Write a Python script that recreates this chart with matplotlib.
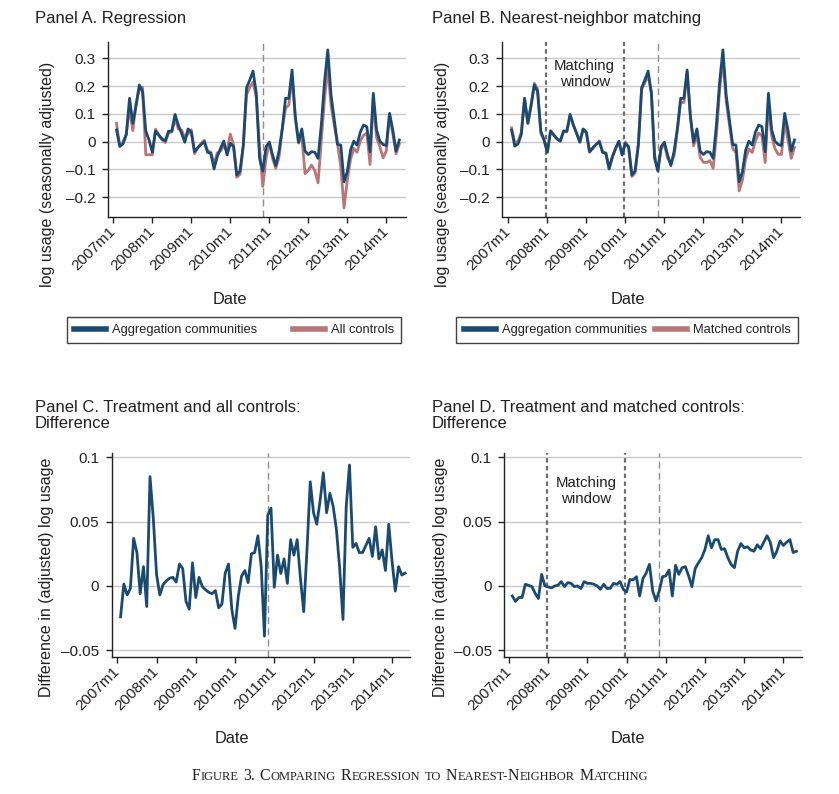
import matplotlib
matplotlib.use("Agg")
import matplotlib.pyplot as plt
from matplotlib.lines import Line2D
from matplotlib.transforms import IdentityTransform, blended_transform_factory

plt.rcParams['font.family'] = ['Liberation Sans', 'DejaVu Sans']

# ---------------- data (month index 0 = 2007m1) ----------------
tick_months = [0, 12, 24, 36, 48, 60, 72, 84]
tick_labels = ['2007m1', '2008m1', '2009m1', '2010m1', '2011m1', '2012m1', '2013m1', '2014m1']
months = list(range(1, 89))

treatment = [0.042, -0.016, -0.008, 0.026, 0.156, 0.066, 0.130, 0.204, 0.180, 0.038,
             0.006, -0.038, 0.038, 0.024, 0.010, 0.003, 0.038, 0.038, 0.098, 0.060,
             0.030, -0.002, 0.046, 0.034, -0.036, -0.022, -0.010, 0.000, -0.038, -0.042,
             -0.098, -0.054, -0.024, 0.002, -0.048, -0.006, -0.018, -0.120, -0.105, -0.012,
             0.194, 0.222, 0.254, 0.174, -0.060, -0.106, -0.018, -0.002, -0.048, -0.086,
             -0.034, 0.048, 0.156, 0.156, 0.258, 0.090, -0.002, 0.046, -0.034, -0.046,
             -0.036, -0.038, -0.060, 0.060, 0.216, 0.330, 0.168, 0.078, -0.010, -0.012,
             -0.144, -0.108, -0.030, 0.002, -0.012, 0.034, 0.060, 0.054, -0.036, 0.174,
             0.042, 0.002, -0.010, -0.014, 0.102, 0.042, -0.034, 0.006]

all_controls = [0.066, -0.018, -0.001, 0.028, 0.119, 0.040, 0.136, 0.189, 0.196, -0.047,
                -0.047, -0.047, 0.045, 0.023, 0.006, -0.003, 0.031, 0.035, 0.081, 0.046,
                0.042, 0.016, 0.028, 0.043, -0.043, -0.022, -0.007, 0.005, -0.032, -0.038,
                -0.081, -0.040, -0.034, -0.015, -0.030, 0.027, -0.010, -0.128, -0.117, -0.015,
                0.169, 0.196, 0.215, 0.159, -0.021, -0.161, -0.060, -0.001, -0.060, -0.096,
                -0.055, 0.046, 0.120, 0.132, 0.235, 0.084, -0.005, 0.018, -0.115, -0.103,
                -0.084, -0.104, -0.148, 0.003, 0.155, 0.268, 0.130, 0.058, -0.010, -0.090,
                -0.238, -0.138, -0.063, -0.024, -0.038, 0.002, 0.023, 0.031, -0.082, 0.153,
                0.014, -0.018, -0.058, -0.034, 0.098, 0.027, -0.043, -0.008]

matched_controls = [0.050, -0.004, 0.001, 0.035, 0.155, 0.066, 0.131, 0.210, 0.190, 0.029,
                    0.006, -0.037, 0.040, 0.024, 0.010, 0.000, 0.039, 0.035, 0.096, 0.060,
                    0.030, 0.000, 0.043, 0.032, -0.038, -0.023, -0.010, 0.003, -0.039, -0.040,
                    -0.096, -0.056, -0.025, -0.001, -0.045, -0.001, -0.023, -0.125, -0.112, -0.004,
                    0.188, 0.212, 0.237, 0.178, -0.048, -0.102, -0.025, -0.010, -0.060, -0.078,
                    -0.050, 0.039, 0.142, 0.141, 0.250, 0.090, -0.015, 0.028, -0.056, -0.074,
                    -0.075, -0.068, -0.096, 0.024, 0.188, 0.301, 0.146, 0.061, -0.024, -0.039,
                    -0.177, -0.138, -0.061, -0.026, -0.039, 0.002, 0.031, 0.020, -0.075, 0.140,
                    0.020, -0.025, -0.045, -0.046, 0.068, 0.006, -0.060, -0.021]

diff_all = [-0.024, 0.0015, -0.007, -0.002, 0.037, 0.026, -0.006, 0.015, -0.016, 0.085,
            0.053, 0.009, -0.007, 0.001, 0.004, 0.006, 0.0067, 0.003, 0.017, 0.0136,
            -0.012, -0.018, 0.018, -0.009, 0.0067, -0.0005, -0.003, -0.005, -0.006, -0.0036,
            -0.017, -0.014, 0.010, 0.017, -0.018, -0.033, -0.008, 0.0077, 0.012, 0.0026,
            0.025, 0.026, 0.039, 0.015, -0.039, 0.055, 0.0605, -0.001, 0.024, 0.0097,
            0.021, 0.002, 0.036, 0.024, 0.036, 0.006, -0.020, 0.028, 0.081, 0.057,
            0.048, 0.066, 0.088, 0.057, 0.072, 0.062, 0.044, 0.0136, -0.026, 0.062,
            0.094, 0.030, 0.033, 0.026, 0.026, 0.0315, 0.037, 0.023, 0.046, 0.021,
            0.028, 0.012, 0.048, 0.0195, -0.004, 0.015, 0.0085, 0.010]

diff_matched = [-0.0078, -0.012, -0.009, -0.009, 0.0013, 0.0005, -0.0005, -0.0057, -0.0098, 0.009,
                0.000, -0.0008, -0.0015, 0.000, 0.0005, 0.0034, -0.0005, 0.0026, 0.002, -0.0005,
                0.000, -0.002, 0.0034, 0.002, 0.002, 0.0013, 0.000, -0.0026, 0.0013, -0.002,
                -0.0018, 0.002, 0.0013, 0.0034, -0.0026, -0.0047, 0.005, 0.0047, 0.0072, -0.0078,
                0.0057, 0.010, 0.0168, -0.0039, -0.0116, -0.0039, 0.0072, 0.0078, 0.0124, -0.0078,
                0.016, 0.009, 0.0142, 0.015, 0.0078, -0.0005, 0.0134, 0.018, 0.022, 0.0284,
                0.039, 0.0297, 0.036, 0.036, 0.0284, 0.029, 0.022, 0.0168, 0.0142, 0.027,
                0.033, 0.0297, 0.0305, 0.028, 0.027, 0.032, 0.029, 0.034, 0.039, 0.034,
                0.022, 0.027, 0.035, 0.0315, 0.034, 0.036, 0.026, 0.027]

policy_month = 46            # 2010m11
window_start, window_end = 11.5, 35.5

# ---------------- style ----------------
BLUE = '#1b4a70'
RED = '#b87678'
GRID = '#c9c9c9'
TXT = '#231f20'

W, H = 839, 794
fig = plt.figure(figsize=(W / 100, H / 100), dpi=100)


def px_axes(left, top, right, bottom):
    return fig.add_axes([left / W, 1 - bottom / H, (right - left) / W, (bottom - top) / H])


def style(ax, yticks, ylabels, ylim, xlim, ylabel, ylab_xy, xlab_xy):
    ax.set_xlim(*xlim)
    ax.set_ylim(*ylim)
    ax.set_yticks(yticks)
    ax.set_yticklabels(ylabels)
    ax.set_xticks(tick_months)
    ax.set_xticklabels(tick_labels, rotation=45, ha='right', va='center',
                       rotation_mode='anchor')
    for s in ['top', 'right']:
        ax.spines[s].set_visible(False)
    for s in ['left', 'bottom']:
        ax.spines[s].set_color('#222222')
        ax.spines[s].set_linewidth(1.0)
    ax.tick_params(axis='both', direction='out', length=4, width=1.0, color='#222222',
                   labelsize=11, labelcolor=TXT, pad=5)
    ax.tick_params(axis='x', pad=5)
    ax.grid(axis='y', color=GRID, linewidth=1.0)
    ax.grid(axis='x', visible=False)
    ax.set_axisbelow(True)
    ax.set_ylabel(ylabel, fontsize=11.5, color=TXT)
    ax.yaxis.set_label_coords(*ylab_xy)
    ax.set_xlabel('Date', fontsize=11.8, color=TXT)
    ax.xaxis.set_label_coords(*xlab_xy)


ylevels = [-0.2, -0.1, 0, 0.1, 0.2, 0.3]
ylevel_labels = ['\u20130.2', '\u20130.1', '0', '0.1', '0.2', '0.3']
dlevels = [-0.05, 0, 0.05, 0.1]
dlevel_labels = ['\u20130.05', '0', '0.05', '0.1']

# ---- Panel A ----
axA = px_axes(108, 41.6, 406, 216.7)
axA.plot(months, all_controls, color=RED, lw=2.0, zorder=3, solid_joinstyle='round')
axA.plot(months, treatment, color=BLUE, lw=2.0, zorder=4, solid_joinstyle='round')
axA.axvline(policy_month, color='#8c8c8c', lw=1.0, ls=(0, (5, 3)), zorder=2)
style(axA, ylevels, ylevel_labels, (-0.2698, 0.36), (-1.63, 90.06),
      'log usage (seasonally adjusted)', (-0.177, 0.24), (0.41, -0.43))

# ---- Panel B ----
axB = px_axes(502.3, 41.6, 800.3, 216.7)
axB.plot(months, matched_controls, color=RED, lw=2.0, zorder=3, solid_joinstyle='round')
axB.plot(months, treatment, color=BLUE, lw=2.0, zorder=4, solid_joinstyle='round')
for xw in (window_start, window_end):
    axB.axvline(xw, color='#6e6e6e', lw=1.6, ls=(0, (2, 1.5)), zorder=2)
axB.axvline(policy_month, color='#8c8c8c', lw=1.0, ls=(0, (5, 3)), zorder=2)
axB.text((window_start + window_end) / 2, 0.815, 'Matching\nwindow', ha='center', va='center',
         fontsize=10.8, color=TXT, linespacing=1.15,
         transform=blended_transform_factory(axB.transData, axB.transAxes))
style(axB, ylevels, ylevel_labels, (-0.2698, 0.36), (-1.85, 89.8),
      'log usage (seasonally adjusted)', (-0.177, 0.24), (0.42, -0.43))

# ---- Panel C ----
axC = px_axes(111.7, 452.7, 410, 656.7)
axC.plot(months, diff_all, color=BLUE, lw=2.0, zorder=4, solid_joinstyle='round')
axC.axvline(policy_month, color='#8c8c8c', lw=1.0, ls=(0, (5, 3)), zorder=2)
style(axC, dlevels, dlevel_labels, (-0.055, 0.1036), (-1.71, 89.5),
      'Difference in (adjusted) log usage', (-0.195, 0.39), (0.404, -0.365))

# ---- Panel D ----
axD = px_axes(504.3, 452.7, 802.3, 656.7)
axD.plot(months, diff_matched, color=BLUE, lw=2.0, zorder=4, solid_joinstyle='round')
for xw in (window_start, window_end):
    axD.axvline(xw, color='#6e6e6e', lw=1.6, ls=(0, (2, 1.5)), zorder=2)
axD.axvline(policy_month, color='#8c8c8c', lw=1.0, ls=(0, (5, 3)), zorder=2)
axD.text((window_start + window_end) / 2, 0.812, 'Matching\nwindow', ha='center', va='center',
         fontsize=10.8, color=TXT, linespacing=1.15,
         transform=blended_transform_factory(axD.transData, axD.transAxes))
style(axD, dlevels, dlevel_labels, (-0.055, 0.1036), (-1.44, 89.8),
      'Difference in (adjusted) log usage', (-0.19, 0.39), (0.415, -0.365))

# ---- titles ----
def title(x, y, s):
    fig.text(x / W, 1 - y / H, s, ha='left', va='top', fontsize=12, color=TXT, linespacing=1.1)

title(35, 11, 'Panel A. Regression')
title(432, 11, 'Panel B. Nearest-neighbor matching')
title(35, 400, 'Panel C. Treatment and all controls:\nDifference')
title(432, 400, 'Panel D. Treatment and matched controls:\nDifference')

# ---- legends ----
def legend(ax, labels, cx, cy, colsp):
    handles = [Line2D([], [], color=BLUE, lw=4), Line2D([], [], color=RED, lw=4)]
    lg = ax.legend(handles, labels, loc='center', bbox_to_anchor=(cx / W, 1 - cy / H),
                   bbox_transform=fig.transFigure, ncol=2, fontsize=9.3, frameon=True,
                   fancybox=False, edgecolor='#111111', handlelength=2.5,
                   handletextpad=0.45, columnspacing=colsp, borderpad=0.55,
                   labelcolor=TXT)
    lg.get_frame().set_linewidth(1.0)

legend(axA, ['Aggregation communities', 'All controls'], 234, 330, 2.75)
legend(axB, ['Aggregation communities', 'Matched controls'], 627, 330, 0.6)

# ---- caption in small caps ----
fig.canvas.draw()
renderer = fig.canvas.get_renderer()
BIG, SMALL = 11.4, 9.0
pieces = [('F', BIG), ('IGURE', SMALL), (' ', BIG), ('3.', BIG), (' ', BIG),
          ('C', BIG), ('OMPARING', SMALL), (' ', BIG), ('R', BIG), ('EGRESSION', SMALL),
          (' ', BIG), ('TO', SMALL), (' ', BIG), ('N', BIG), ('EAREST-', SMALL),
          ('N', BIG), ('EIGHBOR', SMALL), (' ', BIG), ('M', BIG), ('ATCHING', SMALL)]
base_y = H - 780
objs = []
x = 0.0
for s, size in pieces:
    if s == ' ':
        x += size * 100 / 72 * 0.28
        continue
    t = fig.text(x, base_y, s, fontsize=size, family='Liberation Serif', color=TXT,
                 ha='left', va='baseline', transform=IdentityTransform())
    w = t.get_window_extent(renderer).width
    objs.append((t, x))
    x += w + 0.3
total = x
shift = 420 - total / 2
for t, x0 in objs:
    t.set_x(x0 + shift)

fig.savefig('out.png', dpi=100)
